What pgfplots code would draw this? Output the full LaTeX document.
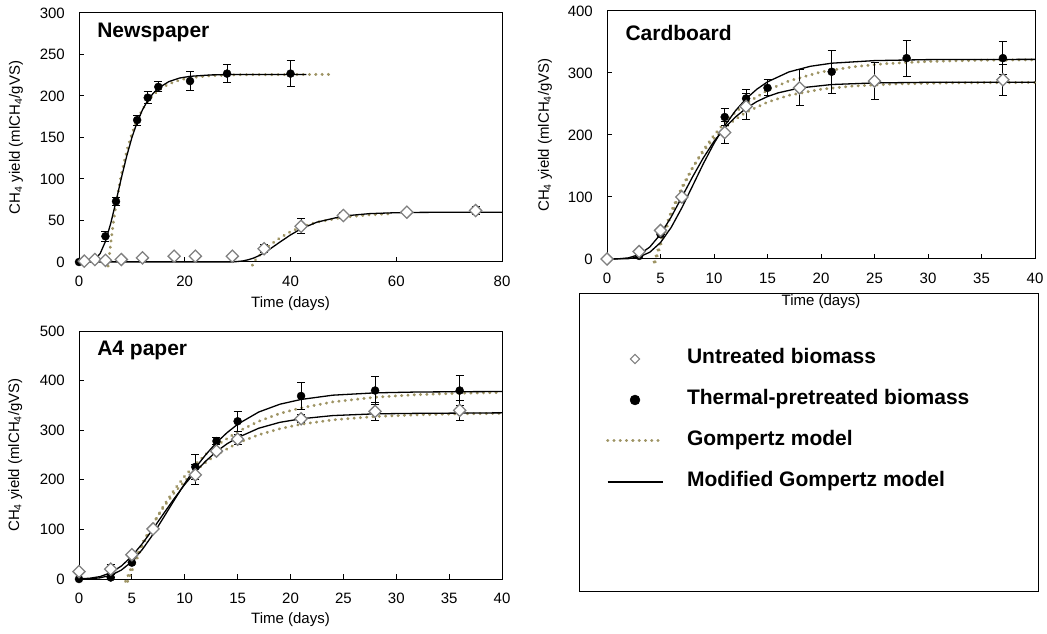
\documentclass[border=0pt]{standalone}
\usepackage{pgfplots}
\pgfplotsset{compat=1.18}
\usepackage{fontspec}
\setmainfont{Liberation Sans}
\definecolor{olivec}{RGB}{158,148,100}
\tikzset{ttl/.style={anchor=west, font=\bfseries\fontsize{21bp}{23bp}\selectfont}}
\newcommand{\lblfont}{\fontsize{15bp}{17bp}\selectfont}
\pgfplotsset{
  panel/.style={
    scale only axis, clip=false,
    axis line style={line width=1bp},
    every tick/.style={black, line width=1bp},
    tick align=inside, major tick length=5bp,
    xtick pos=bottom, ytick pos=left,
    /pgf/number format/assume math mode=true,
    tick label style={font=\lblfont},
    xticklabel style={anchor=north, inner sep=0pt, yshift=-14bp},
    yticklabel style={anchor=east, inner sep=0pt, xshift=-14bp},
    xlabel={Time (days)},
    ylabel={CH\textsubscript{4} yield (mlCH\textsubscript{4}/gVS)},
  },
  xlab/.style={every axis x label/.style={at={(axis description cs:0.5,#1)}, anchor=center, font=\lblfont}},
  ylab/.style={every axis y label/.style={at={(axis description cs:#1,0.5)}, rotate=90, anchor=center, font=\lblfont}},
  gomp/.style={olivec, line width=3bp, dash pattern=on 0.3bp off 6bp, line cap=round, no marks},
  mgomp/.style={black, line width=1.3bp, no marks},
  ebar/.style={error bars/y dir=both, error bars/y explicit,
     error bars/error bar style={black, line width=1bp},
     error bars/error mark options={black, line width=1bp, mark size=4bp, rotate=90}},
  untr/.style={only marks, mark=square*, mark size=4.3bp,
     mark options={rotate=45, fill=white, draw=gray, line width=1.3bp}, ebar},
  ther/.style={only marks, mark=*, mark size=4bp,
     mark options={fill=black, draw=black}, ebar},
  legline/.style={legend image code/.code={\draw[##1] (0bp,0bp) -- (55bp,0bp);}},
  legmark/.style={legend image code/.code={\draw[mark repeat=2,mark phase=2,##1] plot coordinates {(0bp,0bp) (27.5bp,0bp) (55bp,0bp)};}},
}
\begin{document}
\begin{tikzpicture}
\useasboundingbox (0,0) rectangle (1047bp,634bp);
% ---------------- Newspaper ----------------
\begin{axis}[panel, at={(79bp,372bp)}, anchor=south west,
  width=423bp, height=249bp, xlab=-0.167, ylab=-0.149,
  xmin=0, xmax=80, ymin=0, ymax=300,
  xtick={0,20,40,60,80}, ytick={0,50,100,150,200,250,300}]
\node[ttl] at (rel axis cs:0.035,0.92) {Newspaper};
\addplot[gomp] coordinates {(5.5,-5) (5.6,0) (6,22.5) (6.5,47.5) (7,69) (8,105.5) (9,133) (10,154.6) (11,171) (12,183.8) (13,193.5) (14,200.9) (15,207) (17,214.6) (19,219.2) (21,222) (25,224.6) (30,225.6) (48,226)};
\addplot[gomp] coordinates {(32.8,-4) (33,0) (35,14) (36,19.9) (38,29) (40,36.5) (42,42) (45,48) (50,53.9) (55,56.9) (59,58.1)};
\addplot[mgomp] coordinates {(0,0) (2,0.5) (3,2.9) (4,10.2) (5,24.7) (6,46.5) (7,73) (8,101) (9,127) (10,149.8) (11,168.5) (12,183.3) (13,194.6) (14,203) (15,209.4) (17,217.4) (19,221.6) (21,223.7) (25,225.4) (30,226) (43,226)};
\addplot[mgomp] coordinates {(0,0) (29,0) (30,0.6) (31,1.3) (32,2.7) (33,4.7) (34,7.5) (35,11) (36,15.1) (38,24) (40,32.6) (42,40) (45,48) (50,55.4) (55,58.3) (60,59.4) (65,59.8) (80,60)};
\addplot[ther] coordinates {(0,0) +- (0,0) (5,31) +- (0,6) (7,73) +- (0,5) (11,171) +- (0,6) (13,198) +- (0,7) (15,211) +- (0,6) (21,218) +- (0,11) (28,227) +- (0,11) (40,227) +- (0,16)};
\addplot[untr] coordinates {(1,1) +- (0,0) (3,3) +- (0,0) (5,2) +- (0,0) (8,3) +- (0,0) (12,5) +- (0,0) (18,7) +- (0,0) (22,7) +- (0,0) (29,7) +- (0,0) (35,16) +- (0,5) (42,43) +- (0,9) (50,56) +- (0,4) (62,60) +- (0,2) (75,62) +- (0,5)};
\end{axis}
% ---------------- Cardboard ----------------
\begin{axis}[panel, at={(607bp,375bp)}, anchor=south west,
  width=428bp, height=248bp, xlab=-0.173, ylab=-0.145,
  xmin=0, xmax=40, ymin=0, ymax=400,
  xtick={0,5,...,40}, ytick={0,100,...,400}]
\node[ttl] at (rel axis cs:0.035,0.911) {Cardboard};
\addplot[gomp] coordinates {(4.5,-5) (4.6,0) (5,22.3) (6,71.5) (7,112.7) (8,147) (9,175.9) (10,199.8) (11,220) (12,236.6) (13,250.7) (15,272.2) (17,287.2) (20,301.7) (23,310) (26,315) (30,318.6) (35,320.6) (40,321.3)};
\addplot[gomp] coordinates {(4.4,-5) (4.5,0) (5,28.2) (6,76.6) (7,116) (8,147.6) (9,173.6) (10,194.6) (11,211.7) (12,225.4) (13,236.6) (15,253) (17,264) (20,273.8) (23,279) (27,282.4) (32,284) (40,284.8)};
\addplot[mgomp] coordinates {(0,0) (2,0.6) (3,3.3) (4,10.9) (5,26.5) (6,51) (7,82.7) (8,118) (9,153.6) (10,186.5) (11,215) (12,239) (13,258.5) (14,273.8) (15,285.7) (17,301.7) (19,310.8) (21,315.8) (25,320) (30,321.6) (40,322)};
\addplot[mgomp] coordinates {(0,0) (1,0.2) (2,1.8) (3,7.1) (4,19.3) (5,39.9) (6,67.8) (7,100) (8,132.6) (9,163) (10,189.7) (11,211.6) (12,229) (13,243) (14,253.9) (15,262) (16,268) (18,275.8) (21,281.4) (25,284) (30,285) (40,285)};
\addplot[ther] coordinates {(0,0) +- (0,0) (3,5) +- (0,0) (5,40) +- (0,0) (7,97) +- (0,0) (11,229) +- (0,14) (13,259) +- (0,15) (15,276) +- (0,13) (21,302) +- (0,35) (28,324) +- (0,29) (37,324) +- (0,26)};
\addplot[untr] coordinates {(0,0) +- (0,0) (3,12) +- (0,0) (5,46) +- (0,0) (7,100) +- (0,0) (11,204) +- (0,17) (13,246) +- (0,21) (18,276) +- (0,29) (25,287) +- (0,30) (37,289) +- (0,25)};
\end{axis}
% ---------------- A4 paper ----------------
\begin{axis}[panel, at={(79bp,55bp)}, anchor=south west,
  width=423bp, height=248bp, xlab=-0.165, ylab=-0.151,
  xmin=0, xmax=40, ymin=0, ymax=500,
  xtick={0,5,...,40}, ytick={0,100,...,500},
  legend style={at={(axis description cs:1.2459,0.9214)}, anchor=north west,
    draw=none, fill=none, inner sep=0pt, outer sep=0pt, row sep=24bp, column sep=23bp,
    nodes={inner sep=0pt, text height=13bp, text depth=4bp, font=\bfseries\fontsize{21bp}{23bp}\selectfont}},
  legend cell align=left]
\addlegendimage{only marks, mark=square*, mark size=3.3bp, mark options={rotate=45, fill=white, draw=gray, line width=1.1bp}, legmark}
\addlegendentry{Untreated biomass}
\addlegendimage{only marks, mark=*, mark size=5bp, mark options={fill=black, draw=black}, legmark}
\addlegendentry{Thermal-pretreated biomass}
\addlegendimage{gomp, legline}
\addlegendentry{Gompertz model}
\addlegendimage{mgomp, legline}
\addlegendentry{Modified Gompertz model}
\node[ttl] at (rel axis cs:0.035,0.923) {A4 paper};
\addplot[gomp, forget plot] coordinates {(4.6,-5) (4.7,0) (5,16.6) (6,67) (7,110) (8,147.6) (9,179.7) (10,207.3) (11,231) (12,251.6) (13,269) (15,297) (17,318) (19,333.8) (21,345) (24,357) (28,366.5) (32,371.7) (36,374.5) (40,376)};
\addplot[gomp, forget plot] coordinates {(4.4,-5) (4.5,0) (5,26) (6,72.3) (7,111.6) (8,145) (9,173.5) (10,197.6) (11,218) (12,235.5) (13,250.5) (15,274) (17,290.8) (19,303) (21,312) (24,320.8) (28,327.6) (32,331) (36,333) (40,334)};
\addplot[mgomp, forget plot] coordinates {(0,0) (1,0.4) (2,2.4) (3,7.5) (4,17.9) (5,35.2) (6,59.8) (7,90) (8,124) (9,158.8) (10,192.6) (11,224) (12,251) (13,275) (14,295) (15,312) (17,336.7) (19,352.4) (21,362) (24,370.6) (28,375.3) (32,377) (36,377.6) (40,378)};
\addplot[mgomp, forget plot] coordinates {(0,0.3) (1,1.5) (2,4.9) (3,12.6) (4,26) (5,46) (6,71.6) (7,101) (8,131.8) (9,162) (10,190.6) (11,216) (12,238) (13,257) (14,272.6) (15,285) (17,304) (19,315.9) (21,323) (24,329.5) (28,333) (32,334) (40,335)};
\addplot[ther, forget plot] coordinates {(0,0) +- (0,0) (3,3) +- (0,0) (5,33) +- (0,0) (7,100) +- (0,0) (11,226) +- (0,26) (13,278) +- (0,7) (15,318) +- (0,20) (21,369) +- (0,27) (28,380) +- (0,28) (36,380) +- (0,30)};
\addplot[untr, forget plot] coordinates {(0,15) +- (0,0) (3,20) +- (0,10) (5,49) +- (0,0) (7,101) +- (0,0) (11,210) +- (0,20) (13,258) +- (0,5) (15,282) +- (0,10) (21,323) +- (0,8) (28,338) +- (0,18) (36,340) +- (0,20)};
\end{axis}
\draw[line width=1bp] (579bp,42bp) rectangle (1038bp,340bp);
\end{tikzpicture}
\end{document}
